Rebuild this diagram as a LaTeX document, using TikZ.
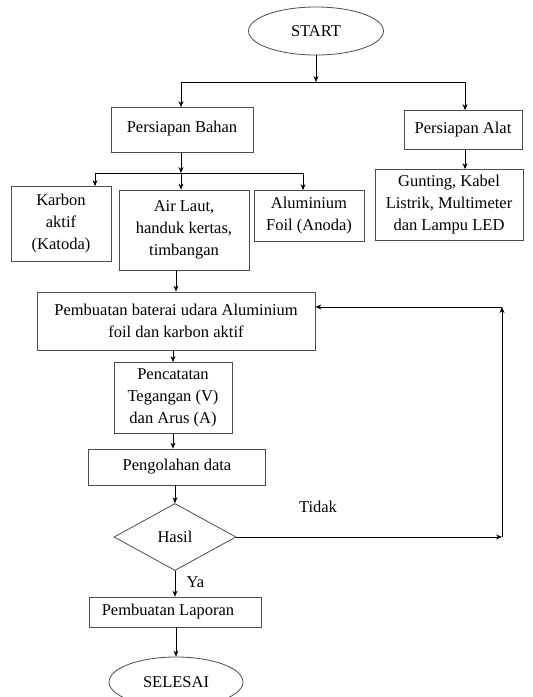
\documentclass[tikz,border=0pt]{standalone}
\usepackage{fontspec}
\setmainfont{Liberation Serif}
\usetikzlibrary{shapes.geometric,positioning,arrows.meta}

\begin{document}
\begin{tikzpicture}[>={Stealth[length=6pt,width=5pt]}, x=1pt, y=-1pt, line width=0.8pt,
    font=\fontsize{16.5}{22}\selectfont,
    box/.style={draw=black!70, rectangle, align=center, inner sep=0pt},
    term/.style={draw=black!70, ellipse, inner sep=0pt},
    dec/.style={draw=black!70, diamond, aspect=1.8, inner sep=0pt}]
    \useasboundingbox (0,0) rectangle (533,697);

    % Start and preparation
    \node[term, minimum width=135, minimum height=48] (start) at (316,31) {START};
    \node[box, minimum width=142, minimum height=45] (bahan) at (182,130) {\raisebox{7pt}{Persiapan Bahan}};
    \node[box, minimum width=118, minimum height=39] (alat) at (463,130) {\raisebox{3pt}{Persiapan Alat}};
    \coordinate (split) at (316,82);
    \coordinate (splitl) at (181,82);
    \coordinate (splitr) at (465,82);
    \draw[->] (start) -- (split);
    \draw (splitl) -- (splitr);
    \draw[->] (splitl) -- (splitl |- bahan.north);
    \draw[->] (splitr) -- (splitr |- alat.north);

    % Materials
    \node[box, minimum width=100, minimum height=75] (karbon) at (61,224) {Karbon\\aktif\\(Katoda)};
    \node[box, minimum width=130, minimum height=80] (airlaut) at (184,230) {Air Laut,\\handuk kertas,\\timbangan};
    \node[box, minimum width=110, minimum height=51] (alu) at (309,216) {Aluminium\\Foil (Anoda)};
    \node[box, minimum width=148, minimum height=71] (alatlist) at (449,205) {Gunting, Kabel\\Listrik, Multimeter\\dan Lampu LED};
    \draw[->] (alat.south -| splitr) -- (splitr |- alatlist.north);
    \coordinate (mat) at (181,173);
    \coordinate (matl) at (95,173);
    \coordinate (matr) at (303,173);
    \draw[->] (bahan.south -| mat) -- (mat);
    \draw (matl) -- (matr);
    \draw[->] (matl) -- (matl |- karbon.north);
    \draw[->] (mat) -- (mat |- airlaut.north);
    \draw[->] (matr) -- (matr |- alu.north);

    % Main process
    \node[box, minimum width=278, minimum height=58] (baterai) at (176,321) {Pembuatan baterai udara Aluminium\\foil dan karbon aktif};
    \node[box, minimum width=118, minimum height=71] (catat) at (173,398) {Pencatatan\\Tegangan (V)\\dan Arus (A)};
    \node[box, minimum width=177, minimum height=36] (olah) at (177,467) {Pengolahan data};
    \node[dec, minimum width=122, minimum height=67] (hasil) at (175,537) {Hasil};
    \node[box, minimum width=172, minimum height=30] (lapor) at (175,612) {\hspace*{-14pt}Pembuatan Laporan};
    \node[term, minimum width=134, minimum height=50] (selesai) at (176,682) {SELESAI};
    \draw[->] (baterai.north |- airlaut.south) -- (baterai.north);
    \draw[->] (catat.north |- baterai.south) -- (catat.north);
    \draw[->] (catat.south) -- (catat.south |- olah.north);
    \draw[->] (hasil.north |- olah.south) -- (hasil.north);
    \draw[->] (hasil.south) -- (lapor.north -| hasil.south)
        node[pos=0.45, right=8pt] {Ya};
    \draw[->] (selesai.north |- lapor.south) -- (selesai.north);

    % Loop back
    \coordinate (back1) at (502,537);
    \coordinate (back2) at (502,307);
    \draw[->] (hasil.east) -- (back1);
    \draw[->] (back1) -- (back2);
    \draw[->] (back2) -- (baterai.east |- back2);
    \node (tidak) at (318,507) {Tidak};
\end{tikzpicture}
\end{document}
